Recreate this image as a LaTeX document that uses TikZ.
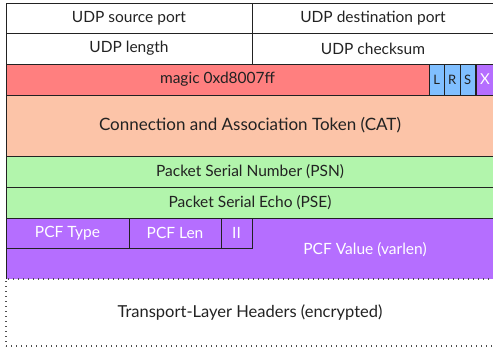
\documentclass[tikz,border=0pt]{standalone}
\usepackage{fontspec}
\setmainfont{Lato}
\definecolor{magicred}{HTML}{FF7F7F}
\definecolor{flagblue}{HTML}{80BFFF}
\definecolor{catpeach}{HTML}{FCC4A8}
\definecolor{psgreen}{HTML}{B2F5AC}
\definecolor{pcfpurple}{HTML}{B56EFF}
\definecolor{ink}{HTML}{222222}
\tikzset{
  field/.style={draw=ink, line width=1pt, inner sep=0pt, outer sep=0pt,
    anchor=north west, text=ink, font=\fontsize{15.5}{17}\selectfont},
  bigfield/.style={field, font=\fontsize{17}{20}\selectfont},
  flagbox/.style={field, minimum width=15.5pt, minimum height=31pt,
    font=\fontsize{13}{14}\selectfont}
}
\begin{document}
\begin{tikzpicture}[x=1pt, y=-1pt]
            \useasboundingbox (0,0) rectangle (493,349);

            % UDP header
            \node[field, minimum width=246pt, minimum height=30pt] (srcport) at (6,3) {UDP source port};
            \node[field, minimum width=242pt, minimum height=30pt] (dstport) at (252,3) {UDP destination port};
            \node[field, minimum width=246pt, minimum height=31pt] (udplen) at (6,33) {UDP length};
            \node[field, minimum width=242pt, minimum height=31pt] (udpsum) at (252,33) {UDP checksum};

            % magic and flags
            \node[field, fill=magicred, minimum width=423pt, minimum height=31pt] (magic) at (6,64) {magic 0xd8007ff};
            \foreach \f/\x in {L/429, R/444.5, S/460}
                \node[flagbox, fill=flagblue] (flag\f) at (\x,64) {\f};
            \node[flagbox, fill=pcfpurple, text=white, minimum width=18pt, font=\fontsize{15}{16}\selectfont] (flagX) at (476,64) {X};

            % token and serials
            \node[bigfield, fill=catpeach, minimum width=488pt, minimum height=61pt] (cat) at (6,95) {Connection and Association Token (CAT)};
            \node[field, fill=psgreen, minimum width=488pt, minimum height=31pt] (psn) at (6,156) {Packet Serial Number (PSN)};
            \node[field, fill=psgreen, minimum width=488pt, minimum height=31pt] (pse) at (6,187) {Packet Serial Echo (PSE)};

            % PCF
            \node[field, draw=none, fill=pcfpurple, minimum width=488pt, minimum height=61pt] (pcf) at (6,218) {};
            \draw[ink, line width=1pt] (pcf.south west) -- (pcf.north west) -- (pcf.north east) -- (pcf.south east);
            \node[field, text=white, minimum width=123pt, minimum height=30pt] (pcftype) at (6,218) {PCF Type};
            \node[field, text=white, minimum width=92pt, minimum height=30pt] (pcflen) at (129,218) {PCF Len};
            \node[field, text=white, minimum width=31pt, minimum height=30pt] (pcfii) at (221,218) {II};
            \node[text=white, font=\fontsize{15.5}{17}\selectfont] (pcfvalue) at (365,250) {PCF Value (varlen)};

            % encrypted part
            \node[bigfield, draw=ink!80, line width=1.3pt, dash pattern=on 1.3pt off 3.7pt, minimum width=488pt, minimum height=67pt, font=\fontsize{16.5}{19}\selectfont] (transport) at (6,279) {Transport-Layer Headers (encrypted)};
        \end{tikzpicture}
\end{document}
